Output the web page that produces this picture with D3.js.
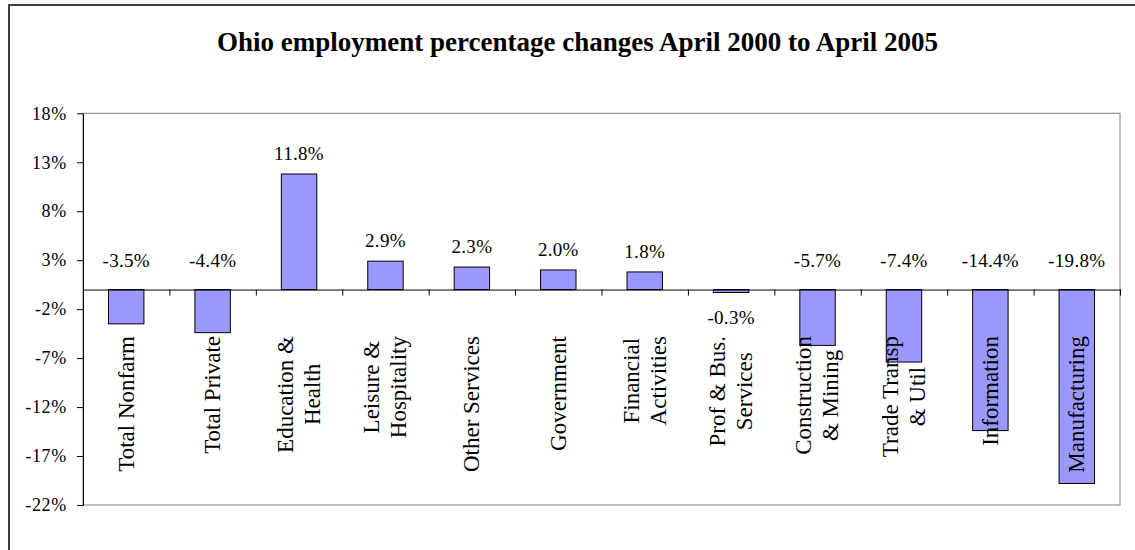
<!DOCTYPE html>
<html>
<head>
<meta charset="utf-8">
<script src="https://cdn.jsdelivr.net/npm/d3@7"></script>
<style>
  html, body { margin: 0; padding: 0; background: #fff; }
  svg { display: block; }
  svg text { font-family: "Liberation Serif", "Times New Roman", serif; fill: #000; }
</style>
</head>
<body>
<div id="chart"></div>
<script>
var title = 'Ohio employment percentage changes April 2000 to April 2005';

// category names, "\n" marks a line break in the axis label
var categories = [
  'Total Nonfarm', 'Total Private', 'Education &\nHealth', 'Leisure &\nHospitality',
  'Other Services', 'Government', 'Financial\nActivities', 'Prof & Bus.\nServices',
  'Construction\n& Mining', 'Trade Transp\n& Util', 'Information', 'Manufacturing'
];
var values = [-3.5, -4.4, 11.8, 2.9, 2.3, 2.0, 1.8, -0.3, -5.7, -7.4, -14.4, -19.8];
var yTicks = [18, 13, 8, 3, -2, -7, -12, -17, -22];

var width = 1135;
var height = 550;
var plot = { left: 83, right: 1120, top: 113.3, bottom: 505 };

var svg = d3.select('#chart').append('svg')
  .attr('width', width)
  .attr('height', height);

// outer chart frame runs past the picture edges
svg.append('rect')
  .attr('x', 9).attr('y', 5)
  .attr('width', 1200).attr('height', 600)
  .attr('fill', '#fff')
  .attr('stroke', '#404040')
  .attr('stroke-width', 2);

svg.append('text')
  .attr('x', 577.5)
  .attr('y', 51)
  .attr('text-anchor', 'middle')
  .style('font-size', '27px')
  .style('font-weight', 'bold')
  .text(title);

var x = d3.scaleBand()
  .domain(d3.range(categories.length))
  .range([plot.left, plot.right])
  .paddingInner(0.59)
  .paddingOuter(0.295);

var xEdges = d3.scaleLinear()
  .domain([0, categories.length])
  .range([plot.left, plot.right]);

var y = d3.scaleLinear()
  .domain([d3.min(yTicks), d3.max(yTicks)])
  .range([plot.bottom, plot.top]);

// plot area border
svg.append('rect')
  .attr('x', plot.left).attr('y', plot.top)
  .attr('width', plot.right - plot.left)
  .attr('height', plot.bottom - plot.top)
  .attr('fill', 'none')
  .attr('stroke', '#808080')
  .attr('stroke-width', 1);

svg.selectAll('.bar')
  .data(values)
  .enter().append('rect')
  .attr('class', 'bar')
  .attr('x', function (d, i) { return x(i); })
  .attr('width', x.bandwidth())
  .attr('y', function (d) { return y(Math.max(0, d)); })
  .attr('height', function (d) { return Math.abs(y(d) - y(0)); })
  .attr('fill', '#9999ff')
  .attr('stroke', '#000')
  .attr('stroke-width', 1);

var yAxis = d3.axisLeft(y)
  .tickValues(yTicks)
  .tickSize(6)
  .tickSizeOuter(0)
  .tickPadding(10)
  .tickFormat(function (d) { return d + '%'; });

var gy = svg.append('g')
  .attr('transform', 'translate(' + plot.left + ',0)')
  .call(yAxis)
  .attr('font-family', null)
  .attr('font-size', null);
gy.selectAll('text')
  .style('font-size', '18px')
  .style('letter-spacing', '0.7px');
gy.selectAll('line, path').attr('stroke', '#000');

var xAxis = d3.axisBottom(xEdges)
  .tickValues(d3.range(categories.length + 1))
  .tickSize(6)
  .tickSizeOuter(0)
  .tickFormat('');

var gx = svg.append('g')
  .attr('transform', 'translate(0,' + y(0) + ')')
  .call(xAxis);
gx.selectAll('line, path').attr('stroke', '#000');

// value labels
svg.selectAll('.value')
  .data(values)
  .enter().append('text')
  .attr('class', 'value')
  .attr('x', function (d, i) { return x(i) + x.bandwidth() / 2; })
  .attr('y', function (d) {
    if (d >= 0) return y(d) - 14;
    if (d > -1) return y(d) + 31;
    return y(0) - 23;
  })
  .attr('text-anchor', 'middle')
  .style('font-size', '19px')
  .style('letter-spacing', '0.3px')
  .text(function (d) { return d.toFixed(1) + '%'; });

// rotated category labels, lines centred, block ending at labelTop
var labelTop = 336;
var lineStep = 27;

categories.forEach(function (name, i) {
  var lines = name.split('\n');
  var cx = x(i) + x.bandwidth() / 2;
  var t = svg.append('text')
    .attr('transform', 'translate(' + cx + ',' + labelTop + ') rotate(-90)')
    .attr('text-anchor', 'middle')
    .style('font-size', '23px');

  var spans = lines.map(function (line, j) {
    return t.append('tspan')
      .attr('y', (j - (lines.length - 1) / 2) * lineStep)
      .attr('dy', '0.32em')
      .text(line);
  });

  var longest = d3.max(spans, function (s) { return s.node().getComputedTextLength(); });
  spans.forEach(function (s) { s.attr('x', -longest / 2); });
});
</script>
</body>
</html>
